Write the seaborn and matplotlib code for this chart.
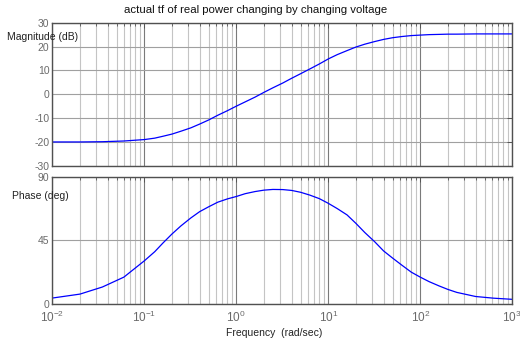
import numpy as np
import pandas as pd
import matplotlib
matplotlib.use("Agg")
import matplotlib.pyplot as plt
import matplotlib.ticker as mticker
import seaborn as sns

# ---- data ----
freq = [0.01, 0.02, 0.035, 0.06, 0.1, 0.13, 0.16, 0.2, 0.25, 0.32, 0.4, 0.5,
        0.63, 0.8, 1.0, 1.25, 1.6, 2.0, 2.5, 3.2, 4.0, 5.0, 6.3, 8.0, 10,
        12.5, 16, 20, 25, 32, 40, 50, 63, 80, 100, 125, 160, 200, 250, 400,
        630, 1000]
magnitude_db = [-20.0, -20.0, -19.9, -19.6, -19.0, -18.4, -17.6, -16.7, -15.5,
                -14.1, -12.5, -10.8, -8.8, -6.9, -5.0, -3.2, -1.2, 0.8, 2.7,
                4.7, 6.7, 8.6, 10.6, 12.7, 14.8, 16.6, 18.3, 19.8, 21.0, 22.1,
                23.0, 23.7, 24.2, 24.6, 24.8, 25.0, 25.1, 25.2, 25.2, 25.3,
                25.3, 25.3]
phase_deg = [4.2, 7.0, 12.0, 19.0, 30.5, 37.0, 43.2, 49.5, 55.2, 60.8, 65.3,
             68.7, 72.0, 74.3, 76.0, 78.0, 79.5, 80.5, 81.0, 80.9, 80.3, 79.0,
             77.0, 74.5, 71.2, 67.5, 63.0, 57.0, 50.5, 44.0, 37.5, 32.5, 27.5,
             22.5, 19.0, 15.8, 12.8, 10.3, 8.2, 5.3, 4.1, 3.3]
mag_ticks = [-30, -20, -10, 0, 10, 20, 30]
phase_ticks = [0, 45, 90]
title = "actual tf of real power changing by changing voltage"
mag_label = "Magnitude (dB)"
phase_label = "Phase (deg)"
x_label = "Frequency  (rad/sec)"

df = pd.DataFrame({"freq": freq, "mag": magnitude_db, "phase": phase_deg})

sns.set_style("white")
plt.rcParams["font.family"] = ["Liberation Sans", "DejaVu Sans"]
plt.rcParams["mathtext.default"] = "regular"
plt.rcParams["axes.unicode_minus"] = False

fig = plt.figure(figsize=(5.2, 3.44), dpi=100)
ax1 = fig.add_axes([0.1006, 0.518, 0.8844, 0.416])
ax2 = fig.add_axes([0.1006, 0.1163, 0.8844, 0.370])

tick_col = "#6a6a6a"
for ax, col, ticks, lim in [(ax1, "mag", mag_ticks, (-30, 30)),
                            (ax2, "phase", phase_ticks, (0, 90))]:
    sns.lineplot(data=df, x="freq", y=col, ax=ax, color="#0000ff",
                 linewidth=0.9, legend=False)
    ax.set_xscale("log")
    ax.set_xlim(0.01, 1000)
    ax.set_ylim(*lim)
    ax.set_yticks(ticks)
    ax.xaxis.set_major_locator(mticker.LogLocator(base=10, numticks=10))
    ax.xaxis.set_minor_locator(mticker.LogLocator(base=10, subs=np.arange(2, 10), numticks=20))
    ax.xaxis.set_minor_formatter(mticker.NullFormatter())
    ax.grid(True, which="major", axis="x", color="#7a7a7a", linewidth=0.8)
    ax.grid(True, which="minor", axis="x", color="#c4c4c4", linewidth=0.8)
    ax.grid(True, which="major", axis="y", color="#a0a0a0", linewidth=0.8)
    ax.set_axisbelow(True)
    ax.tick_params(axis="both", which="both", direction="in", top=True, right=True,
                   labelsize=7.5, colors="#555555", labelcolor=tick_col)
    ax.tick_params(axis="both", which="major", length=3.5, width=0.7)
    ax.tick_params(axis="x", which="minor", length=2, width=0.6)
    ax.tick_params(axis="y", pad=2)
    for s in ax.spines.values():
        s.set_color("#505050")
        s.set_linewidth(1.0)
    ax.set_xlabel("")
    ax.set_ylabel("")

ax1.tick_params(axis="x", labelbottom=False)
ax2.tick_params(axis="x", pad=4, labelsize=8.5)

fig.text(0.492, 0.971, title, ha="center", va="center", fontsize=8.2, color="#111111")
fig.text(0.013, 0.892, mag_label, ha="left", va="center", fontsize=7.5, color="#222222")
fig.text(0.023, 0.430, phase_label, ha="left", va="center", fontsize=7.5, color="#222222")
fig.text(0.527, 0.032, x_label, ha="center", va="center", fontsize=7.5, color="#222222")

fig.savefig("out.png", dpi=100)
